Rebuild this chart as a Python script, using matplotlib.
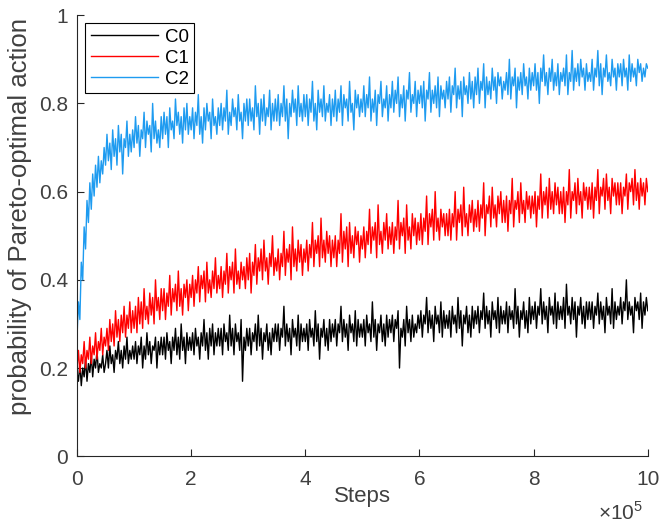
import matplotlib
matplotlib.use('Agg')
import matplotlib.pyplot as plt
from matplotlib.ticker import ScalarFormatter
import numpy as np

plt.rcParams['font.family'] = ['Liberation Sans', 'DejaVu Sans']
plt.rcParams['mathtext.fontset'] = 'custom'
plt.rcParams['mathtext.rm'] = 'Liberation Sans'

# probability of picking the Pareto-optimal action, sampled every 2500 steps
c2 = [0.27, 0.35, 0.31, 0.44, 0.40, 0.52, 0.47, 0.58, 0.53, 0.62, 0.56, 0.64, 0.59, 0.66, 0.61, 0.68, 0.62, 0.67, 0.64, 0.70,
      0.66, 0.73, 0.67, 0.71, 0.65, 0.74, 0.68, 0.72, 0.66, 0.75, 0.69, 0.73, 0.64, 0.72, 0.70, 0.76, 0.68, 0.73, 0.69, 0.74,
      0.70, 0.77, 0.71, 0.75, 0.68, 0.74, 0.72, 0.78, 0.70, 0.76, 0.73, 0.75, 0.69, 0.80, 0.72, 0.76, 0.71, 0.74, 0.70, 0.77,
      0.72, 0.78, 0.73, 0.77, 0.70, 0.79, 0.74, 0.76, 0.72, 0.81, 0.75, 0.78, 0.73, 0.77, 0.71, 0.79, 0.74, 0.80, 0.73, 0.77,
      0.74, 0.79, 0.72, 0.78, 0.75, 0.82, 0.73, 0.77, 0.71, 0.79, 0.74, 0.80, 0.76, 0.78, 0.72, 0.81, 0.75, 0.77, 0.73, 0.79,
      0.75, 0.80, 0.74, 0.79, 0.76, 0.83, 0.73, 0.78, 0.75, 0.81, 0.77, 0.79, 0.74, 0.82, 0.76, 0.78, 0.72, 0.80, 0.76, 0.81,
      0.75, 0.81, 0.76, 0.79, 0.74, 0.84, 0.77, 0.80, 0.73, 0.81, 0.76, 0.82, 0.75, 0.79, 0.77, 0.83, 0.74, 0.80, 0.76, 0.81,
      0.76, 0.82, 0.75, 0.80, 0.77, 0.84, 0.76, 0.81, 0.72, 0.80, 0.77, 0.83, 0.78, 0.81, 0.75, 0.84, 0.77, 0.80, 0.76, 0.82,
      0.77, 0.82, 0.75, 0.81, 0.78, 0.85, 0.76, 0.80, 0.74, 0.83, 0.78, 0.81, 0.77, 0.84, 0.76, 0.80, 0.78, 0.82, 0.75, 0.81,
      0.77, 0.83, 0.76, 0.81, 0.78, 0.84, 0.75, 0.82, 0.79, 0.81, 0.76, 0.85, 0.78, 0.80, 0.74, 0.83, 0.79, 0.82, 0.77, 0.81,
      0.78, 0.84, 0.77, 0.82, 0.79, 0.86, 0.76, 0.81, 0.78, 0.83, 0.75, 0.82, 0.80, 0.85, 0.77, 0.81, 0.79, 0.84, 0.76, 0.82,
      0.79, 0.85, 0.78, 0.83, 0.80, 0.86, 0.77, 0.82, 0.79, 0.84, 0.76, 0.83, 0.81, 0.87, 0.78, 0.82, 0.80, 0.85, 0.77, 0.83,
      0.80, 0.84, 0.79, 0.85, 0.76, 0.83, 0.81, 0.87, 0.78, 0.83, 0.80, 0.84, 0.79, 0.86, 0.77, 0.84, 0.81, 0.83, 0.79, 0.85,
      0.81, 0.86, 0.78, 0.84, 0.82, 0.88, 0.79, 0.84, 0.81, 0.85, 0.77, 0.86, 0.82, 0.84, 0.80, 0.87, 0.81, 0.85, 0.79, 0.86,
      0.82, 0.88, 0.80, 0.85, 0.83, 0.89, 0.79, 0.86, 0.82, 0.85, 0.81, 0.88, 0.83, 0.86, 0.80, 0.87, 0.84, 0.86, 0.81, 0.85,
      0.83, 0.87, 0.82, 0.90, 0.81, 0.86, 0.84, 0.88, 0.79, 0.86, 0.83, 0.87, 0.82, 0.89, 0.84, 0.86, 0.81, 0.88, 0.83, 0.87,
      0.84, 0.89, 0.83, 0.87, 0.80, 0.88, 0.85, 0.91, 0.84, 0.87, 0.82, 0.88, 0.85, 0.90, 0.83, 0.87, 0.84, 0.89, 0.82, 0.87,
      0.85, 0.88, 0.84, 0.91, 0.82, 0.87, 0.85, 0.92, 0.83, 0.88, 0.85, 0.89, 0.84, 0.90, 0.86, 0.88, 0.83, 0.89, 0.85, 0.87,
      0.85, 0.90, 0.83, 0.88, 0.86, 0.92, 0.84, 0.89, 0.82, 0.88, 0.86, 0.91, 0.85, 0.87, 0.84, 0.90, 0.86, 0.88, 0.83, 0.89,
      0.86, 0.89, 0.84, 0.90, 0.86, 0.88, 0.83, 0.91, 0.85, 0.89, 0.86, 0.88, 0.84, 0.90, 0.87, 0.89, 0.85, 0.88, 0.86, 0.89,
      0.88]

c1 = [0.20, 0.24, 0.19, 0.23, 0.21, 0.26, 0.20, 0.24, 0.22, 0.27, 0.21, 0.25, 0.23, 0.28, 0.22, 0.26, 0.24, 0.29, 0.23, 0.27,
      0.25, 0.29, 0.24, 0.31, 0.26, 0.30, 0.25, 0.33, 0.27, 0.31, 0.26, 0.32, 0.28, 0.34, 0.27, 0.32, 0.29, 0.35, 0.28, 0.33,
      0.29, 0.34, 0.28, 0.36, 0.30, 0.35, 0.29, 0.38, 0.31, 0.34, 0.30, 0.37, 0.32, 0.36, 0.30, 0.40, 0.33, 0.36, 0.31, 0.38,
      0.33, 0.38, 0.31, 0.37, 0.34, 0.41, 0.32, 0.38, 0.35, 0.39, 0.33, 0.42, 0.34, 0.38, 0.32, 0.39, 0.36, 0.40, 0.33, 0.39,
      0.36, 0.41, 0.34, 0.40, 0.37, 0.43, 0.35, 0.41, 0.38, 0.42, 0.35, 0.44, 0.37, 0.40, 0.36, 0.42, 0.38, 0.45, 0.37, 0.41,
      0.38, 0.43, 0.36, 0.42, 0.39, 0.46, 0.37, 0.43, 0.40, 0.44, 0.37, 0.47, 0.39, 0.42, 0.38, 0.44, 0.40, 0.43, 0.38, 0.45,
      0.40, 0.46, 0.37, 0.44, 0.41, 0.48, 0.39, 0.45, 0.42, 0.47, 0.40, 0.49, 0.42, 0.45, 0.39, 0.46, 0.43, 0.50, 0.41, 0.45,
      0.42, 0.47, 0.40, 0.46, 0.43, 0.51, 0.41, 0.47, 0.44, 0.48, 0.40, 0.52, 0.43, 0.47, 0.42, 0.49, 0.44, 0.48, 0.41, 0.47,
      0.44, 0.49, 0.42, 0.48, 0.45, 0.53, 0.43, 0.49, 0.46, 0.50, 0.43, 0.54, 0.45, 0.49, 0.44, 0.51, 0.46, 0.50, 0.43, 0.49,
      0.45, 0.50, 0.43, 0.49, 0.46, 0.55, 0.44, 0.51, 0.47, 0.52, 0.43, 0.53, 0.46, 0.50, 0.45, 0.52, 0.48, 0.51, 0.44, 0.50,
      0.47, 0.52, 0.45, 0.51, 0.48, 0.56, 0.46, 0.52, 0.49, 0.53, 0.45, 0.57, 0.48, 0.51, 0.46, 0.53, 0.49, 0.55, 0.47, 0.52,
      0.48, 0.53, 0.46, 0.52, 0.49, 0.58, 0.47, 0.53, 0.50, 0.54, 0.46, 0.57, 0.49, 0.52, 0.47, 0.55, 0.50, 0.54, 0.48, 0.53,
      0.49, 0.55, 0.48, 0.54, 0.51, 0.59, 0.48, 0.55, 0.52, 0.56, 0.49, 0.60, 0.51, 0.54, 0.49, 0.56, 0.52, 0.55, 0.50, 0.55,
      0.50, 0.56, 0.49, 0.55, 0.52, 0.60, 0.49, 0.56, 0.53, 0.57, 0.50, 0.61, 0.52, 0.55, 0.50, 0.57, 0.53, 0.58, 0.51, 0.56,
      0.52, 0.58, 0.51, 0.57, 0.54, 0.62, 0.50, 0.57, 0.55, 0.59, 0.52, 0.61, 0.54, 0.57, 0.52, 0.59, 0.55, 0.60, 0.53, 0.58,
      0.53, 0.59, 0.51, 0.58, 0.55, 0.63, 0.52, 0.58, 0.56, 0.60, 0.53, 0.62, 0.55, 0.58, 0.53, 0.60, 0.56, 0.59, 0.54, 0.59,
      0.55, 0.60, 0.52, 0.59, 0.56, 0.64, 0.54, 0.60, 0.57, 0.61, 0.54, 0.63, 0.56, 0.60, 0.55, 0.62, 0.57, 0.61, 0.55, 0.60,
      0.55, 0.61, 0.53, 0.60, 0.57, 0.65, 0.54, 0.60, 0.58, 0.62, 0.55, 0.63, 0.57, 0.60, 0.54, 0.62, 0.58, 0.61, 0.56, 0.61,
      0.56, 0.62, 0.54, 0.61, 0.58, 0.65, 0.55, 0.61, 0.59, 0.63, 0.56, 0.64, 0.58, 0.61, 0.55, 0.63, 0.59, 0.62, 0.57, 0.62,
      0.57, 0.62, 0.55, 0.61, 0.59, 0.64, 0.56, 0.62, 0.60, 0.63, 0.57, 0.65, 0.58, 0.62, 0.56, 0.63, 0.59, 0.62, 0.57, 0.63,
      0.60]

c0 = [0.19, 0.17, 0.21, 0.16, 0.20, 0.18, 0.22, 0.17, 0.21, 0.19, 0.23, 0.18, 0.22, 0.20, 0.24, 0.19, 0.21, 0.20, 0.23, 0.19,
      0.21, 0.24, 0.20, 0.25, 0.21, 0.23, 0.19, 0.24, 0.22, 0.26, 0.21, 0.24, 0.20, 0.25, 0.22, 0.27, 0.21, 0.24, 0.22, 0.25,
      0.22, 0.26, 0.21, 0.25, 0.23, 0.27, 0.20, 0.25, 0.22, 0.28, 0.23, 0.26, 0.21, 0.25, 0.24, 0.27, 0.20, 0.26, 0.23, 0.27,
      0.23, 0.27, 0.22, 0.28, 0.24, 0.26, 0.21, 0.27, 0.24, 0.29, 0.23, 0.27, 0.22, 0.30, 0.24, 0.27, 0.21, 0.28, 0.24, 0.27,
      0.24, 0.28, 0.23, 0.29, 0.25, 0.27, 0.22, 0.28, 0.25, 0.31, 0.24, 0.28, 0.22, 0.29, 0.25, 0.30, 0.23, 0.28, 0.25, 0.29,
      0.25, 0.29, 0.23, 0.30, 0.26, 0.28, 0.24, 0.32, 0.25, 0.29, 0.23, 0.30, 0.26, 0.28, 0.24, 0.31, 0.17, 0.27, 0.24, 0.29,
      0.25, 0.29, 0.23, 0.28, 0.26, 0.30, 0.24, 0.32, 0.25, 0.29, 0.22, 0.28, 0.26, 0.30, 0.24, 0.28, 0.23, 0.29, 0.26, 0.30,
      0.26, 0.30, 0.24, 0.29, 0.27, 0.34, 0.25, 0.30, 0.26, 0.29, 0.23, 0.31, 0.27, 0.29, 0.25, 0.32, 0.24, 0.30, 0.26, 0.29,
      0.26, 0.30, 0.24, 0.31, 0.27, 0.29, 0.25, 0.33, 0.26, 0.30, 0.22, 0.29, 0.27, 0.31, 0.25, 0.29, 0.24, 0.31, 0.26, 0.30,
      0.27, 0.31, 0.25, 0.30, 0.28, 0.34, 0.26, 0.31, 0.27, 0.30, 0.24, 0.32, 0.28, 0.30, 0.26, 0.33, 0.25, 0.31, 0.27, 0.30,
      0.27, 0.31, 0.25, 0.32, 0.28, 0.30, 0.26, 0.35, 0.27, 0.31, 0.24, 0.30, 0.28, 0.32, 0.26, 0.30, 0.25, 0.32, 0.27, 0.31,
      0.28, 0.32, 0.26, 0.31, 0.29, 0.33, 0.20, 0.29, 0.27, 0.31, 0.25, 0.34, 0.28, 0.31, 0.26, 0.32, 0.27, 0.30, 0.28, 0.32,
      0.29, 0.33, 0.27, 0.32, 0.30, 0.36, 0.28, 0.33, 0.29, 0.32, 0.26, 0.34, 0.30, 0.32, 0.28, 0.35, 0.27, 0.33, 0.29, 0.32,
      0.29, 0.33, 0.27, 0.34, 0.30, 0.32, 0.28, 0.36, 0.29, 0.33, 0.25, 0.32, 0.30, 0.34, 0.28, 0.32, 0.27, 0.34, 0.29, 0.33,
      0.30, 0.34, 0.28, 0.33, 0.31, 0.37, 0.29, 0.34, 0.30, 0.33, 0.27, 0.35, 0.31, 0.33, 0.29, 0.36, 0.28, 0.34, 0.30, 0.33,
      0.30, 0.35, 0.28, 0.34, 0.31, 0.33, 0.29, 0.38, 0.30, 0.34, 0.27, 0.33, 0.31, 0.35, 0.29, 0.33, 0.28, 0.36, 0.30, 0.34,
      0.31, 0.35, 0.29, 0.34, 0.32, 0.38, 0.30, 0.35, 0.31, 0.34, 0.28, 0.36, 0.32, 0.34, 0.30, 0.37, 0.29, 0.35, 0.31, 0.34,
      0.31, 0.36, 0.29, 0.39, 0.32, 0.34, 0.30, 0.36, 0.31, 0.35, 0.27, 0.34, 0.32, 0.36, 0.30, 0.34, 0.29, 0.35, 0.31, 0.35,
      0.31, 0.35, 0.29, 0.34, 0.32, 0.37, 0.30, 0.35, 0.31, 0.34, 0.28, 0.36, 0.32, 0.34, 0.30, 0.38, 0.29, 0.35, 0.31, 0.34,
      0.32, 0.36, 0.30, 0.35, 0.33, 0.40, 0.31, 0.35, 0.32, 0.34, 0.28, 0.36, 0.33, 0.35, 0.31, 0.37, 0.29, 0.35, 0.32, 0.36,
      0.33]

steps = np.linspace(0, 1e6, len(c0))


class Order5Formatter(ScalarFormatter):
    # tick labels in units of 1e5, multiplier drawn by hand below
    def _set_order_of_magnitude(self):
        self.orderOfMagnitude = 5

    def get_offset(self):
        return ''


fig = plt.figure(figsize=(6.61, 5.25), dpi=100)
ax = fig.add_axes([0.1165, 0.131, 0.8635, 0.840])

ax.plot(steps, c0, color='black', lw=1.0, label='C0')
ax.plot(steps, c1, color='#ff0000', lw=1.0, label='C1')
ax.plot(steps, c2, color='#1e9bf0', lw=1.0, label='C2')

ax.set_xlim(0, 1e6)
ax.set_ylim(0, 1)
ax.set_yticks([0, 0.2, 0.4, 0.6, 0.8, 1])
ax.set_yticklabels(['0', '0.2', '0.4', '0.6', '0.8', '1'])
ax.set_xticks([0, 2e5, 4e5, 6e5, 8e5, 1e6])
fmt = Order5Formatter()
fmt.set_scientific(True)
ax.xaxis.set_major_formatter(fmt)
ax.text(0.992, -0.153, r'$\times10^{5}$', transform=ax.transAxes,
        ha='right', va='bottom', fontsize=15, color='#404040')

for s in ['top', 'right']:
    ax.spines[s].set_visible(False)
for s in ['left', 'bottom']:
    ax.spines[s].set_color('#262626')
    ax.spines[s].set_linewidth(0.8)
ax.tick_params(direction='in', length=5, width=0.8, labelsize=15,
               colors='#262626', labelcolor='#404040')
ax.tick_params(axis='x', pad=10)
ax.tick_params(axis='y', pad=6.5)

ax.set_xlabel('Steps', fontsize=16, color='#404040', labelpad=-2)
ax.set_ylabel('probability of Pareto-optimal action', fontsize=18.5,
              color='#404040')
ax.yaxis.label.set_ha('left')
ax.yaxis.set_label_coords(-0.079, 0.093)

leg = ax.legend(loc='upper left', fontsize=13.5, frameon=True, fancybox=False,
                edgecolor='black', framealpha=1, borderpad=0.3,
                handlelength=3.6, handletextpad=0.35, labelspacing=0.2,
                borderaxespad=0.42)
leg.get_frame().set_linewidth(0.8)
for line in leg.get_lines():
    line.set_linewidth(1.0)

fig.savefig('out.png', dpi=100)
